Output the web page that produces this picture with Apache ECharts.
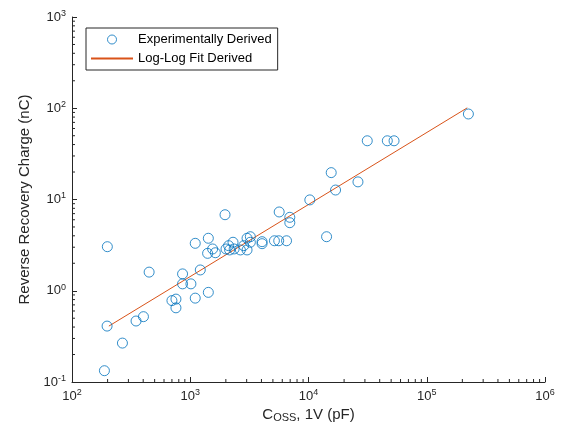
<!DOCTYPE html>
<html>
<head>
<meta charset="utf-8">
<script src="https://cdn.jsdelivr.net/npm/echarts@6/dist/echarts.min.js"></script>
<style>
  html, body { margin: 0; padding: 0; background: #fff; }
</style>
</head>
<body>
<div id="myChart" style="width: 575px; height: 440px;"></div>
<script>
  // measured points (Coss @ 1V in pF, Qrr in nC)
  const coss = [199, 198, 188, 267, 348, 402, 449, 700, 757, 757,
    861, 861, 1013, 1102, 1216, 1102, 1422, 1422, 1546, 1402,
    1630, 1968, 2006, 2112, 2300, 2153, 2350, 2655, 2832, 3022,
    3022, 3222, 3222, 4050, 4050, 5150, 5600, 6520, 5650, 6950,
    6950, 10260, 14220, 15560, 16940, 26200, 31400, 46400, 52900, 225000];
  const qrr = [3.04, 0.41, 0.133, 0.267, 0.466, 0.52, 1.60, 0.78, 0.81, 0.65,
    1.53, 1.19, 1.19, 0.83, 1.69, 3.31, 0.96, 3.76, 2.87, 2.57,
    2.61, 6.81, 2.87, 3.12, 3.40, 2.80, 2.87, 2.80, 3.12, 2.80,
    3.76, 3.91, 3.40, 3.45, 3.28, 3.53, 3.53, 3.53, 7.3, 6.38,
    5.57, 9.9, 3.91, 19.7, 12.7, 15.6, 44, 44, 44, 86.5];

  // fit line ends
  const fitX = [205, 220000];
  const fitY = [0.41, 101];

  const xDecades = [2, 3, 4, 5];
  const yDecades = [-1, 0, 1, 2];

  const axisColor = '#262626';
  const font = 'Liberation Sans, Arial, sans-serif';

  const scatterData = coss.map((c, i) => [c, qrr[i]]);
  const fitData = fitX.map((x, i) => [x, fitY[i]]);

  // minor tick positions (2..9 per decade)
  const xMinor = [];
  xDecades.forEach(k => { for (let m = 2; m <= 9; m++) xMinor.push([m * Math.pow(10, k), 0.1]); });
  const yMinor = [];
  yDecades.forEach(k => { for (let m = 2; m <= 9; m++) yMinor.push([100, m * Math.pow(10, k)]); });

  function powLabel(v) {
    const e = Math.round(Math.log10(v));
    return '{b|10}{s|' + e + '}';
  }

  const labelRich = {
    b: { fontSize: 13, fontFamily: font, color: axisColor },
    s: { fontSize: 9, fontFamily: font, color: axisColor, padding: [0, 0, 7, 0] }
  };

  let myChart = echarts.init(document.getElementById('myChart'));

  myChart.setOption({
    animation: false,
    backgroundColor: '#fff',
    grid: { left: 72, right: 30, top: 17, bottom: 58 },
    legend: {
      orient: 'vertical',
      left: 86,
      top: 28,
      padding: [5, 6, 5, 4],
      itemGap: 6,
      itemWidth: 42,
      itemHeight: 9,
      borderColor: axisColor,
      borderWidth: 1,
      backgroundColor: '#fff',
      textStyle: { fontSize: 13, fontFamily: font, color: '#000' },
      data: [
        { name: 'Experimentally Derived', itemStyle: { borderWidth: 1 } },
        { name: 'Log-Log Fit Derived', itemStyle: { opacity: 0 } }
      ]
    },
    xAxis: {
      type: 'log',
      logBase: 10,
      min: 100,
      max: 1000000,
      name: '{a|C}{sub|OSS}{a|, 1V (pF)}',
      nameLocation: 'middle',
      nameGap: 22,
      nameTextStyle: {
        rich: {
          a: { fontSize: 15, fontFamily: font, color: axisColor },
          sub: { fontSize: 11, fontFamily: font, color: axisColor, padding: [7, 0, 0, 0] }
        }
      },
      axisLine: { lineStyle: { color: axisColor, width: 1 } },
      axisTick: { inside: true, length: 5, lineStyle: { color: axisColor } },
      splitLine: { show: false },
      axisLabel: { margin: 6, formatter: powLabel, rich: labelRich }
    },
    yAxis: {
      type: 'log',
      logBase: 10,
      min: 0.1,
      max: 1000,
      name: 'Reverse Recovery Charge (nC)',
      nameLocation: 'middle',
      nameGap: 40,
      nameTextStyle: { fontSize: 15, fontFamily: font, color: axisColor },
      axisLine: { lineStyle: { color: axisColor, width: 1 } },
      axisTick: { inside: true, length: 5, lineStyle: { color: axisColor } },
      splitLine: { show: false },
      axisLabel: { margin: 6, formatter: powLabel, rich: labelRich }
    },
    series: [
      {
        name: 'Experimentally Derived',
        type: 'scatter',
        symbol: 'circle',
        symbolSize: 10,
        itemStyle: { color: 'rgba(0,0,0,0)', borderColor: '#0072BD', borderWidth: 1 },
        data: scatterData,
        z: 3
      },
      {
        name: 'Log-Log Fit Derived',
        type: 'line',
        symbol: 'none',
        lineStyle: { color: '#D95319', width: 1 },
        itemStyle: { color: '#D95319' },
        data: fitData,
        z: 2
      },
      {
        type: 'custom',
        silent: true,
        clip: false,
        renderItem: function (params, api) {
          const p = api.coord([api.value(0), api.value(1)]);
          return { type: 'line', shape: { x1: p[0], y1: p[1], x2: p[0], y2: p[1] - 3 },
            style: { stroke: axisColor, lineWidth: 1 } };
        },
        data: xMinor,
        z: 5
      },
      {
        type: 'custom',
        silent: true,
        clip: false,
        renderItem: function (params, api) {
          const p = api.coord([api.value(0), api.value(1)]);
          return { type: 'line', shape: { x1: p[0], y1: p[1], x2: p[0] + 3, y2: p[1] },
            style: { stroke: axisColor, lineWidth: 1 } };
        },
        data: yMinor,
        z: 5
      }
    ]
  });
</script>
</body>
</html>
